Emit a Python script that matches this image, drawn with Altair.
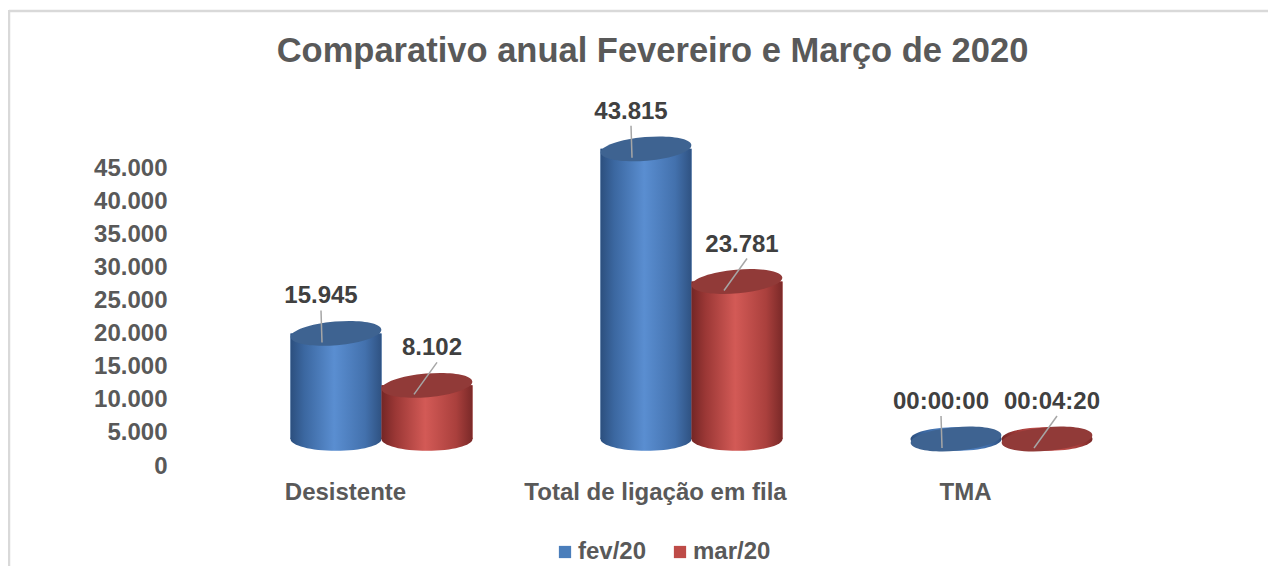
import altair as alt
import pandas as pd

# ---------------- data ----------------
categories = ["Desistente", "Total de ligação em fila", "TMA"]
series = ["fev/20", "mar/20"]
fev_values = [15945, 43815]          # Desistente, Total de ligação em fila
mar_values = [8102, 23781]
tma_seconds = [0, 260]               # fev/20, mar/20 (00:00:00, 00:04:20)
y_ticks = [0, 5000, 10000, 15000, 20000, 25000, 30000, 35000, 40000, 45000]


def fmt_count(v):
    return f"{v:,}".replace(",", ".")


def fmt_time(s):
    return f"{s // 3600:02d}:{(s % 3600) // 60:02d}:{s % 60:02d}"


rows = []
for s, vals, tma in zip(series, [fev_values, mar_values], tma_seconds):
    for c, v in zip(categories[:2], vals):
        rows.append({"category": c, "series": s, "value": v, "label": fmt_count(v)})
    # Excel plots a time as a fraction of a day
    rows.append({"category": "TMA", "series": s, "value": tma / 86400, "label": fmt_time(tma)})
df = pd.DataFrame(rows)
df["zero"] = 0

# ---------------- styling ----------------
FONT = "Liberation Sans"
GREY = "#595959"
W, H = 1033, 298
PAD = {"left": 167, "top": 160, "right": 60, "bottom": 100}
SHIFT = -27  # 3-D floor lift of the cylinders

ELLIPSE = ("M -1 0 C -1 -0.1436 -0.5523 -0.26 0 -0.26 C 0.5523 -0.26 1 -0.1436 1 0 "
           "C 1 0.1436 0.5523 0.26 0 0.26 C -0.5523 0.26 -1 0.1436 -1 0 Z")

grad = {
    "fev/20": alt.LinearGradient(gradient="linear", x1=0, x2=1, y1=0, y2=0, stops=[
        alt.GradientStop(offset=0, color="#2c4f7e"),
        alt.GradientStop(offset=0.15, color="#3b67a0"),
        alt.GradientStop(offset=0.48, color="#5a8ed1"),
        alt.GradientStop(offset=0.82, color="#4371ad"),
        alt.GradientStop(offset=1, color="#2f5282")]),
    "mar/20": alt.LinearGradient(gradient="linear", x1=0, x2=1, y1=0, y2=0, stops=[
        alt.GradientStop(offset=0, color="#742625"),
        alt.GradientStop(offset=0.15, color="#9a3735"),
        alt.GradientStop(offset=0.48, color="#d35a56"),
        alt.GradientStop(offset=0.82, color="#aa403d"),
        alt.GradientStop(offset=1, color="#7a2928")]),
}
top_color = {"fev/20": "#3e6391", "mar/20": "#913a38"}
label_dx = {"fev/20": -15, "mar/20": 5}
rule_x = {"fev/20": (-60.5, -59.5), "mar/20": (55.5, 32.5)}

x_enc = alt.X(
    "category:N", sort=categories, title=None,
    scale=alt.Scale(paddingInner=0.413, paddingOuter=0.3726),
    axis=alt.Axis(labelAngle=0, labelFont=FONT, labelFontSize=24, labelFontWeight="bold",
                  labelColor=GREY, labelPadding=14, labelOffset=-36, labelLimit=500,
                  ticks=False, domain=False, grid=False),
)
xo_enc = alt.XOffset("series:N", sort=series, scale=alt.Scale(paddingInner=0, paddingOuter=0))
y_scale = alt.Scale(domain=[0, 45000], nice=False, zero=True)
y_axis = alt.Axis(values=y_ticks, labelExpr="replace(format(datum.value, ','), ',', '.')",
                  labelFont=FONT, labelFontSize=24, labelFontWeight="bold", labelColor=GREY,
                  labelPadding=8, labelOverlap=False, ticks=False, domain=False, grid=False,
                  title=None)
y_enc = alt.Y("value:Q", stack=None, title=None, scale=y_scale, axis=y_axis)
y_zero = alt.Y("zero:Q", stack=None, title=None, scale=y_scale, axis=y_axis)
y2_enc = alt.Y2("zero:Q")

base = alt.Chart(df)

# chart-area frame (top and left edges)
frame_data = alt.Data(values=[{}])
frame_top = alt.Chart(frame_data).mark_rule(color="#d9d9d9", strokeWidth=2.5).encode(
    x=alt.value(-166), x2=alt.value(W + PAD["right"]), y=alt.value(-157))
frame_left = alt.Chart(frame_data).mark_rule(color="#d9d9d9", strokeWidth=2.5).encode(
    x=alt.value(-166), y=alt.value(-158), y2=alt.value(H + PAD["bottom"]))

# layer that feeds the legend (hidden under the shaded cylinders)
legend_bars = base.mark_bar(yOffset=SHIFT, y2Offset=SHIFT).encode(
    x=x_enc, xOffset=xo_enc, y=y_enc, y2=y2_enc,
    color=alt.Color("series:N", sort=series,
                    scale=alt.Scale(domain=series, range=["#4a7ebb", "#be4b48"]),
                    legend=alt.Legend(orient="none", legendX=378, legendY=372,
                                      direction="horizontal", title=None,
                                      symbolType="square", symbolSize=150,
                                      symbolStrokeWidth=0, labelFont=FONT,
                                      labelFontSize=24, labelFontWeight="bold",
                                      labelColor=GREY, labelOffset=1, columnPadding=21)),
)

layers = [frame_top, frame_left, legend_bars]
for s in series:
    sub = base.transform_filter(alt.datum.series == s)
    bottom = sub.mark_point(shape=ELLIPSE, size=8281, filled=True, fill=grad[s], opacity=1,
                            strokeWidth=0, yOffset=SHIFT).encode(
        x=x_enc, xOffset=xo_enc, y=y_zero)
    body = sub.mark_bar(fill=grad[s], yOffset=SHIFT, y2Offset=SHIFT).encode(
        x=x_enc, xOffset=xo_enc, y=y_enc, y2=y2_enc)
    top = sub.mark_point(shape=ELLIPSE, size=8281, filled=True, fill=top_color[s], opacity=1,
                         strokeWidth=0, angle=355, yOffset=SHIFT).encode(
        x=x_enc, xOffset=xo_enc, y=y_enc)
    layers += [bottom, body, top]

for s in series:
    sub = base.transform_filter(alt.datum.series == s)
    leader = sub.mark_rule(color="#a6a6a6", strokeWidth=1.5,
                           xOffset=rule_x[s][0], x2Offset=rule_x[s][1],
                           yOffset=-50, y2Offset=-18).encode(
        x=x_enc, x2="category:N", y=y_enc, y2="value:Q")
    text = sub.mark_text(dx=label_dx[s], dy=-64, font=FONT, fontSize=24, fontWeight="bold",
                         color="#404040", baseline="middle", align="center").encode(
        x=x_enc, xOffset=xo_enc, y=y_enc, text="label:N")
    layers += [leader, text]

chart = alt.layer(*layers).properties(
    width=W, height=H, padding=PAD,
    autosize=alt.AutoSizeParams(type="none"),
    title=alt.Title("Comparativo anual Fevereiro e Março de 2020", font=FONT, fontSize=34.5,
                    fontWeight="bold", color=GREY, anchor="middle", dx=-39, offset=-61),
).configure(background="white").configure_view(strokeWidth=0, stroke="transparent")

chart.save("out.html", embed_options={"renderer": "svg", "actions": False})
